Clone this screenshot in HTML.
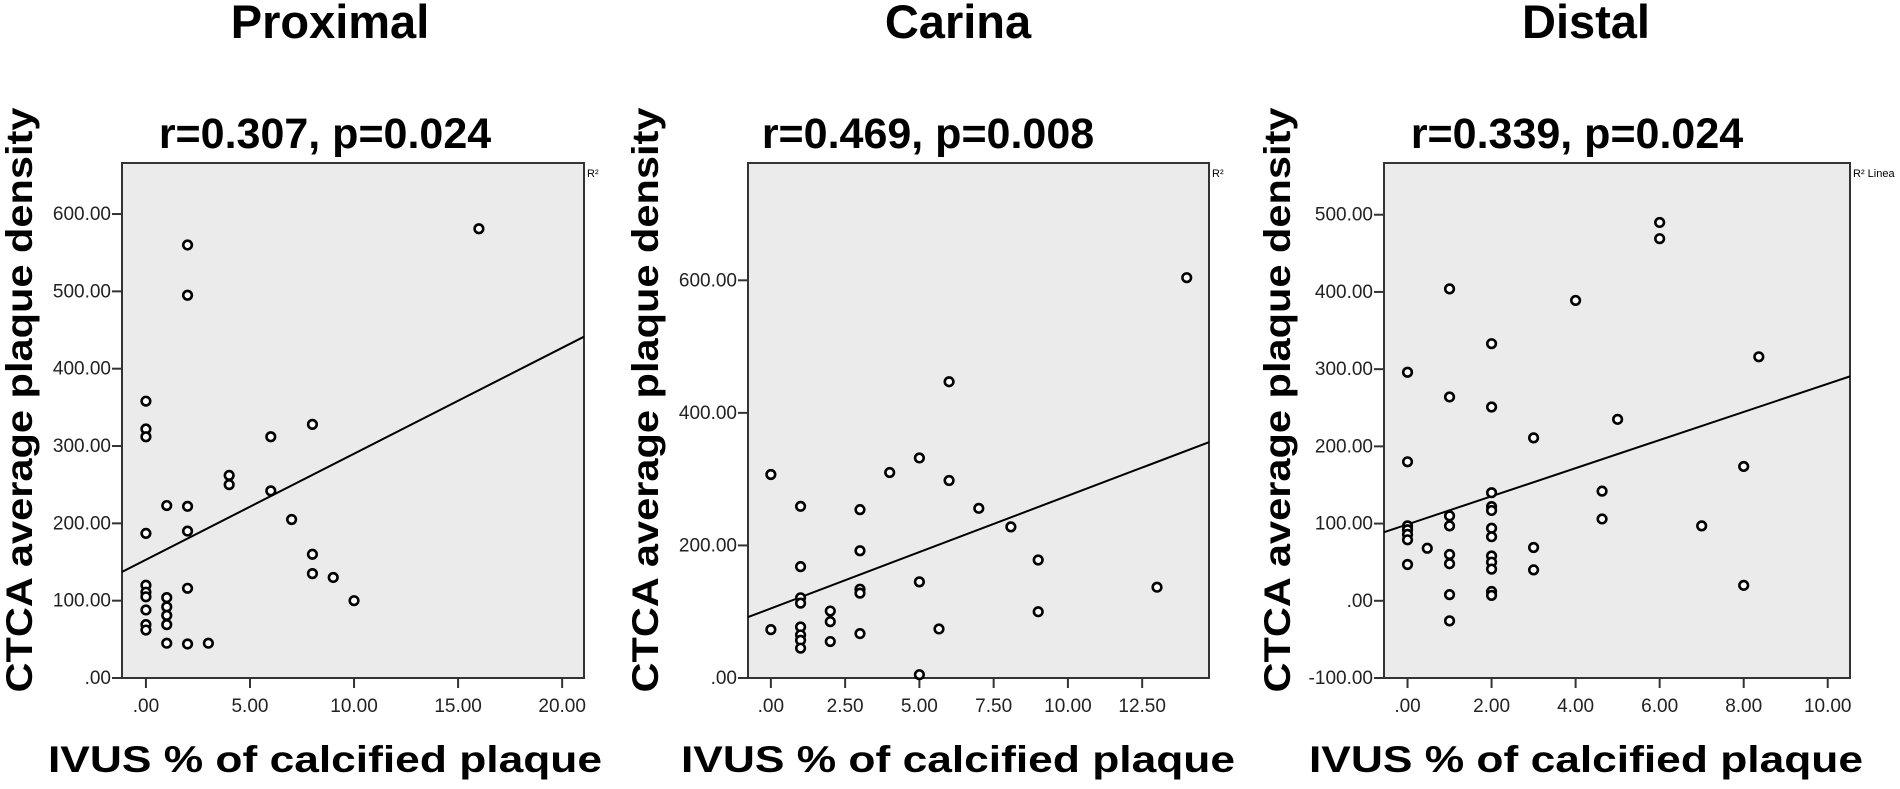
<!DOCTYPE html>
<html><head><meta charset="utf-8">
<style>
html,body{margin:0;padding:0;background:#fff;}
svg{display:block;font-family:"Liberation Sans",Arial,sans-serif;}
</style></head>
<body>
<svg id="chart" width="1900" height="789" viewBox="0 0 1900 789" xmlns="http://www.w3.org/2000/svg">
  <g font-weight="bold" fill="#000">
    <text x="330" y="38" font-size="47" text-anchor="middle">Proximal</text>
    <text x="958" y="38" font-size="47" text-anchor="middle">Carina</text>
    <text x="1586" y="38" font-size="47" text-anchor="middle">Distal</text>
  </g>
</svg>
<script>
// ---------- Panel data ----------
const proxX = [0,0,0,0,0,0,0,0,0,0, 1,1,1,1,1,1, 2,2,2,2,2,2, 3, 4,4, 6,6, 7, 8,8,8, 9, 10, 16];
const proxY = [358,322,312,187,120,111,105,88,69,62, 223,104,92,81,69,45, 560,495,222,190,116,44, 45, 262,250, 312,242, 205, 328,160,135, 130, 100, 581];
const proxFit = [153, 13.7];  // intercept, slope
const proxXTicks = [0,5,10,15,20];
const proxXLabels = [".00","5.00","10.00","15.00","20.00"];
const proxYTicks = [0,100,200,300,400,500,600];
const proxYLabels = [".00","100.00","200.00","300.00","400.00","500.00","600.00"];

const carX = [0,0, 1,1,1,1,1,1,1,1, 2,2,2, 3,3,3,3,3, 4, 5,5,5, 5.66, 6,6, 7, 8.08, 9,9, 13, 14];
const carY = [307,73, 259,168,121,113,77,65,57,45, 101,85,55, 254,192,134,128,67, 310, 332,145,5, 74, 298,447, 256, 228, 178,100, 137, 604];
const carFit = [105, 17.0];
const carXTicks = [0,2.5,5,7.5,10,12.5];
const carXLabels = [".00","2.50","5.00","7.50","10.00","12.50"];
const carYTicks = [0,200,400,600];
const carYLabels = [".00","200.00","400.00","600.00"];

const disX = [0,0,0,0,0,0,0, 0.47, 1,1,1,1,1,1,1,1, 2,2,2,2,2,2,2,2,2,2,2,2, 3,3,3, 4, 4.63,4.63, 5, 6,6, 7, 8,8, 8.36];
const disY = [296,180,97,92,86,79,47, 68, 404,264,110,97,60,48,8,-26, 333,251,140,122,117,94,83,58,50,41,12,7, 211,69,40, 389, 142,106, 235, 490,469, 97, 174,20, 316];
const disFit = [99, 18.2];
const disXTicks = [0,2,4,6,8,10];
const disXLabels = [".00","2.00","4.00","6.00","8.00","10.00"];
const disYTicks = [-100,0,100,200,300,400,500];
const disYLabels = ["-100.00",".00","100.00","200.00","300.00","400.00","500.00"];

const statLabels = ["r=0.307, p=0.024","r=0.469, p=0.008","r=0.339, p=0.024"];

// ---------- Layout (geometry, not data) ----------
const NS = "http://www.w3.org/2000/svg";
const svg = document.getElementById("chart");
function mk(tag, attrs, parent){
  const e = document.createElementNS(NS, tag);
  for (const k in attrs) e.setAttribute(k, attrs[k]);
  (parent||svg).appendChild(e);
  return e;
}

const panels = [
  {key:"proximal", xs:proxX, ys:proxY, fit:proxFit, xt:proxXTicks, xl:proxXLabels, yt:proxYTicks, yl:proxYLabels,
   left:122, right:584, top:163, bottom:678, xmin:-1.15, xmax:21.05, ymin:0, ymax:666,
   statX:325, yTitleX:32, xTitleX:325, r2:"R\u00B2"},
  {key:"carina", xs:carX, ys:carY, fit:carFit, xt:carXTicks, xl:carXLabels, yt:carYTicks, yl:carYLabels,
   left:748, right:1209, top:163, bottom:678, xmin:-0.77, xmax:14.75, ymin:0, ymax:777,
   statX:928, yTitleX:658, xTitleX:958, r2:"R\u00B2"},
  {key:"distal", xs:disX, ys:disY, fit:disFit, xt:disXTicks, xl:disXLabels, yt:disYTicks, yl:disYLabels,
   left:1384, right:1850, top:163, bottom:678, xmin:-0.56, xmax:10.53, ymin:-100, ymax:567,
   statX:1577, yTitleX:1290, xTitleX:1586, r2:"R\u00B2 Linea"}
];

panels.forEach((p, idx) => {
  const g = mk("g", {});
  
  
  const sx = v => p.left + (v - p.xmin) / (p.xmax - p.xmin) * (p.right - p.left);
  const sy = v => p.bottom - (v - p.ymin) / (p.ymax - p.ymin) * (p.bottom - p.top);

  const st = mk("text", {x:p.statX, y:148, "font-size":43, "font-weight":"bold", "text-anchor":"middle", fill:"#000"}, g);
  st.textContent = statLabels[idx];
  
  

  const bg = mk("rect", {x:p.left, y:p.top, width:p.right-p.left, height:p.bottom-p.top, fill:"#ebebeb", stroke:"#333", "stroke-width":2}, g);
  
  

  const r2 = mk("text", {x:p.right+3, y:p.top+14, "font-size":11, fill:"#000"}, g);
  r2.textContent = p.r2;
  
  

  p.yt.forEach((v, i) => {
    const y = sy(v);
    const t = mk("line", {x1:p.left-10, x2:p.left, y1:y, y2:y, stroke:"#333", "stroke-width":2}, g);
    
    
    const l = mk("text", {x:p.left-11, y:y+6, "font-size":19, "text-anchor":"end", fill:"#222"}, g);
    l.textContent = p.yl[i];
    
    
  });
  p.xt.forEach((v, i) => {
    const x = sx(v);
    const t = mk("line", {x1:x, x2:x, y1:p.bottom, y2:p.bottom+10, stroke:"#333", "stroke-width":2}, g);
    
    
    const l = mk("text", {x:x, y:p.bottom+34, "font-size":19, "text-anchor":"middle", fill:"#222"}, g);
    l.textContent = p.xl[i];
    
    
  });

  const x0 = p.xmin, x1 = p.xmax;
  const fl = mk("line", {x1:sx(x0), y1:sy(p.fit[0]+p.fit[1]*x0), x2:sx(x1), y2:sy(p.fit[0]+p.fit[1]*x1), stroke:"#000", "stroke-width":2}, g);
  
  

  p.xs.forEach((xv, i) => {
    const c = mk("circle", {cx:sx(xv), cy:sy(p.ys[i]), r:4.3, fill:"#fff", stroke:"#000", "stroke-width":2.6}, g);
    
    
  });

  const xt = mk("text", {x:p.xTitleX, y:772, "font-size":37, "font-weight":"bold", "text-anchor":"middle", fill:"#000", textLength:554, lengthAdjust:"spacingAndGlyphs"}, g);
  xt.textContent = "IVUS % of calcified plaque";
  
  

  const yt = mk("text", {x:0, y:0, "font-size":37, "font-weight":"bold", "text-anchor":"middle", fill:"#000", textLength:585, lengthAdjust:"spacingAndGlyphs",
    transform:"translate(" + p.yTitleX + ",400) rotate(-90)"}, g);
  yt.textContent = "CTCA average plaque density";
  
  
});
</script>
</body></html>
